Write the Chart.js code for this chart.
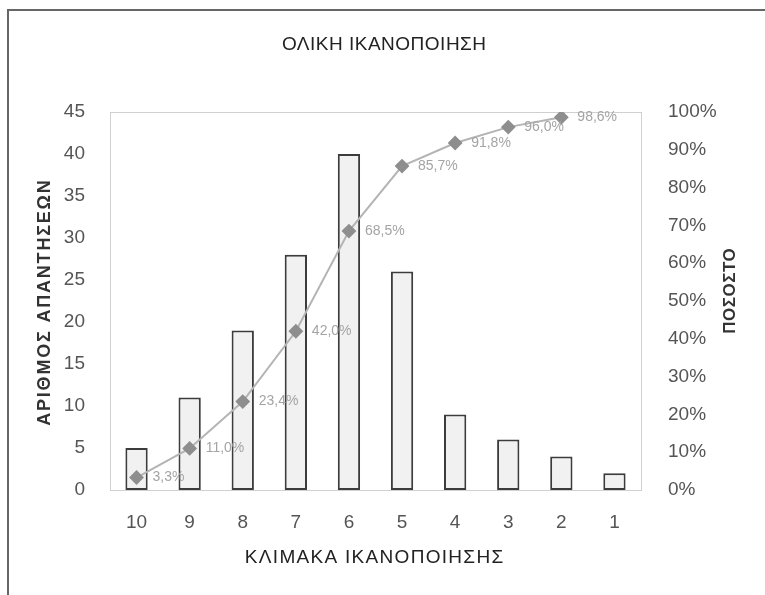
<!DOCTYPE html>
<html>
<head>
<meta charset="utf-8">
<script src="https://cdn.jsdelivr.net/npm/chart.js@4"></script>
<style>
    body { margin: 0; background: #fff; }
    #wrap { position: absolute; left: 0; top: 0; width: 765px; height: 595px; }
    #frame { position: absolute; left: 7px; top: 9px; width: 770px; height: 600px;
             border-left: 2px solid #666; border-top: 2px solid #666; }
</style>
</head>
<body>
<div id="wrap">
    <div id="frame"></div>
    <canvas id="chart" width="765" height="595"></canvas>
</div>
<script>
// scale categories (10 -> 1), answers per category, cumulative percent
const categories = ['10', '9', '8', '7', '6', '5', '4', '3', '2', '1'];
const answers = [5, 11, 19, 28, 40, 26, 9, 6, 4, 2];
const cumulative = [3.3, 11.0, 23.4, 42.0, 68.5, 85.7, 91.8, 96.0, 98.6, null];

const chartTitle = 'ΟΛΙΚΗ ΙΚΑΝΟΠΟΙΗΣΗ';
const xTitle = 'ΚΛΙΜΑΚΑ ΙΚΑΝΟΠΟΙΗΣΗΣ';
const yTitle = 'ΑΡΙΘΜΟΣ ΑΠΑΝΤΗΣΕΩΝ';
const y1Title = 'ΠΟΣΟΣΤΟ';

const FONT = '"Liberation Sans", Arial, sans-serif';

function drawText(ctx, txt, x, y, font, color, spacing, angle) {
    ctx.save();
    ctx.font = font;
    ctx.fillStyle = color;
    ctx.letterSpacing = spacing + 'px';
    ctx.textAlign = 'left';
    ctx.textBaseline = 'middle';
    const w = ctx.measureText(txt).width - spacing;
    ctx.translate(x, y);
    if (angle) ctx.rotate(angle);
    ctx.fillText(txt, -w / 2, 0);
    ctx.restore();
}

// plot frame, percent labels on the line and all titles
const extras = {
    id: 'extras',
    beforeDatasetsDraw(chart) {
        const { ctx, chartArea: a } = chart;
        ctx.save();
        ctx.strokeStyle = '#d0d0d0';
        ctx.lineWidth = 1;
        ctx.strokeRect(a.left + 0.5, a.top + 0.5, a.right - a.left, a.bottom - a.top);
        ctx.restore();
    },
    afterDatasetsDraw(chart) {
        const { ctx } = chart;
        const meta = chart.getDatasetMeta(0);
        ctx.save();
        ctx.font = '14px ' + FONT;
        ctx.fillStyle = '#a4a4a4';
        ctx.textAlign = 'left';
        ctx.textBaseline = 'middle';
        meta.data.forEach((pt, i) => {
            if (cumulative[i] == null) return;
            const txt = cumulative[i].toFixed(1).replace('.', ',') + '%';
            ctx.fillText(txt, pt.x + 16, pt.y);
        });
        ctx.restore();
    },
    afterDraw(chart) {
        const { ctx } = chart;
        drawText(ctx, chartTitle, 384, 45, '19px ' + FONT, '#222', 0.5, 0);
        drawText(ctx, xTitle, 374, 558, '19px ' + FONT, '#222', 1.3, 0);
        drawText(ctx, yTitle, 45, 303, 'bold 18px ' + FONT, '#333', 1.8, -Math.PI / 2);
        drawText(ctx, y1Title, 730, 291, 'bold 17px ' + FONT, '#333', 0.5, -Math.PI / 2);
    }
};

new Chart(document.getElementById('chart'), {
    data: {
        labels: categories,
        datasets: [
            {
                type: 'line',
                data: cumulative,
                yAxisID: 'y1',
                borderColor: '#b4b4b4',
                borderWidth: 2,
                pointStyle: 'rectRot',
                pointRadius: 6,
                pointBackgroundColor: '#8e8e8e',
                pointBorderColor: '#8e8e8e',
                spanGaps: false,
                order: 0
            },
            {
                type: 'bar',
                data: answers,
                yAxisID: 'y',
                backgroundColor: '#f1f1f1',
                borderColor: '#3c3c3c',
                borderWidth: 2,
                borderSkipped: false,
                barPercentage: 0.42,
                categoryPercentage: 1,
                order: 1
            }
        ]
    },
    options: {
        responsive: false,
        animation: false,
        layout: { padding: { left: 0, right: 0, top: 112, bottom: 45 } },
        plugins: {
            legend: { display: false },
            title: { display: false },
            tooltip: { enabled: false }
        },
        scales: {
            x: {
                grid: { display: false },
                border: { color: '#cfcfcf', width: 1 },
                ticks: { color: '#555', font: { family: FONT, size: 19 }, padding: 13, maxRotation: 0 },
                afterFit(s) { s.height = 60; }
            },
            y: {
                position: 'left',
                min: 0, max: 45,
                grid: { display: false },
                border: { color: '#cfcfcf', width: 1 },
                ticks: { stepSize: 5, color: '#555', font: { family: FONT, size: 19 }, padding: 17 },
                afterFit(s) { s.width = 110; }
            },
            y1: {
                position: 'right',
                min: 0, max: 100,
                grid: { display: false },
                border: { color: '#cfcfcf', width: 1 },
                ticks: {
                    stepSize: 10, color: '#555', font: { family: FONT, size: 19 }, padding: 19,
                    callback: v => v + '%'
                },
                afterFit(s) { s.width = 124; }
            }
        }
    },
    plugins: [extras]
});
</script>
</body>
</html>
